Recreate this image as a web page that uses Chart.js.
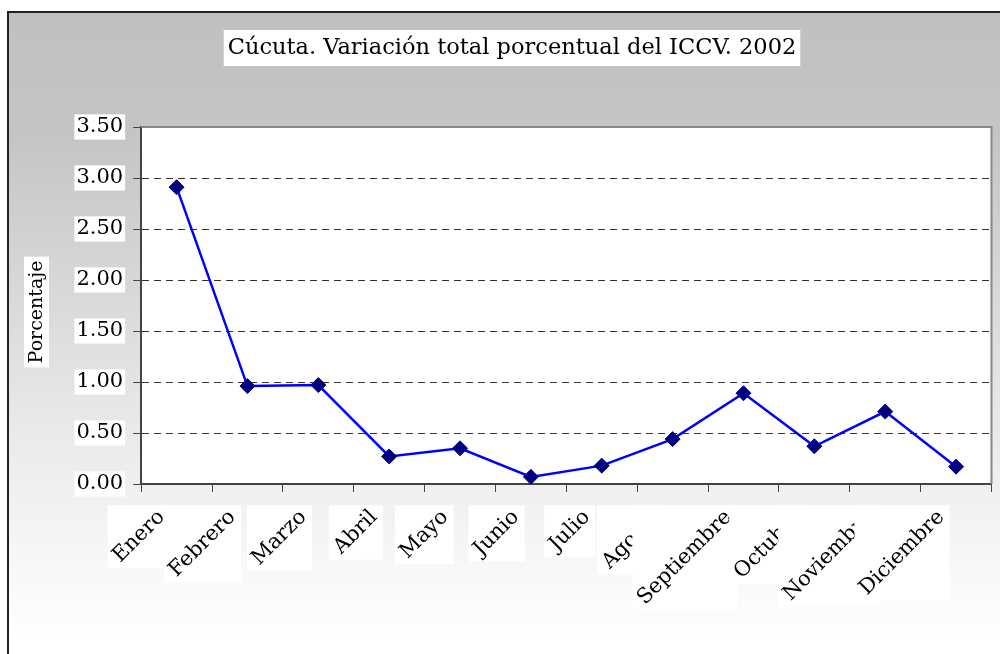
<!DOCTYPE html>
<html>
<head>
<meta charset="utf-8">
<script src="https://cdn.jsdelivr.net/npm/chart.js@4/dist/chart.umd.min.js"></script>
<style>
  html, body { margin: 0; padding: 0; background: #fff; }
  #wrap { width: 1000px; height: 654px; }
</style>
</head>
<body>
<div id="wrap"><canvas id="chart" width="1000" height="654"></canvas></div>
<script>
// Data
const months = ['Enero', 'Febrero', 'Marzo', 'Abril', 'Mayo', 'Junio', 'Julio',
  'Agosto', 'Septiembre', 'Octubre', 'Noviembre', 'Diciembre'];
const variation = [2.91, 0.96, 0.97, 0.27, 0.35, 0.07, 0.18, 0.44, 0.89, 0.37, 0.71, 0.17];
const chartTitle = 'Cúcuta. Variación total porcentual del ICCV. 2002';
const yTitle = 'Porcentaje';

const FONT = '"DejaVu Serif", "Liberation Serif", serif';

// Background gradient, outer frame, title box, white plot area
const frame = {
  id: 'frame',
  beforeDraw(chart) {
    const { ctx, chartArea } = chart;
    ctx.save();
    const g = ctx.createLinearGradient(0, 12, 0, 640);
    g.addColorStop(0, '#c0c0c0');
    g.addColorStop(0.2, '#c5c5c5');
    g.addColorStop(0.7, '#ececec');
    g.addColorStop(1, '#ffffff');
    ctx.fillStyle = g;
    ctx.fillRect(8, 12, 1000, 660);
    ctx.strokeStyle = '#222';
    ctx.lineWidth = 2;
    ctx.strokeRect(8, 12, 1000, 660);

    // title with white box
    ctx.font = '22.5px ' + FONT;
    const tw = ctx.measureText(chartTitle).width;
    const cx = 512;
    ctx.fillStyle = '#fff';
    ctx.fillRect(cx - tw / 2 - 4, 30, tw + 8, 36);
    ctx.fillStyle = '#000';
    ctx.textAlign = 'center';
    ctx.textBaseline = 'middle';
    ctx.fillText(chartTitle, cx, 48);

    // y title box
    ctx.font = '19px ' + FONT;
    const yw = ctx.measureText(yTitle).width;
    ctx.fillStyle = '#fff';
    ctx.fillRect(24, 312 - yw / 2 - 4, 25, yw + 8);

    ctx.fillStyle = '#fff';
    ctx.fillRect(chartArea.left, chartArea.top, chartArea.right - chartArea.left, chartArea.bottom - chartArea.top);
    ctx.restore();
  },
  afterDraw(chart) {
    const { ctx, chartArea, scales } = chart;
    ctx.save();
    // top and right border of plot area
    ctx.strokeStyle = '#888';
    ctx.lineWidth = 2;
    ctx.beginPath();
    ctx.moveTo(chartArea.left, chartArea.top);
    ctx.lineTo(chartArea.right, chartArea.top);
    ctx.lineTo(chartArea.right, chartArea.bottom);
    ctx.stroke();

    // y title
    ctx.font = '19px ' + FONT;
    ctx.fillStyle = '#000';
    ctx.translate(37, 312);
    ctx.rotate(-Math.PI / 2);
    ctx.textAlign = 'center';
    ctx.textBaseline = 'middle';
    ctx.fillText(yTitle, 0, 0);
    ctx.restore();

    // rotated month labels, each on an upright white box drawn in order
    ctx.save();
    ctx.font = '21px ' + FONT;
    const h = 19;
    const c = Math.SQRT1_2;
    months.forEach((m, i) => {
      const ax = scales.x.getPixelForValue(i) - 15;
      const ay = 514;
      const L = ctx.measureText(m).width;
      const x0 = ax - c * L - c * h / 2 - 2;
      const x1 = ax + c * h / 2 + 2;
      const y0 = ay - c * h / 2 - 2;
      const y1 = ay + c * L + c * h / 2 + 2;
      ctx.fillStyle = '#fff';
      ctx.fillRect(x0, y0, x1 - x0, y1 - y0);
      ctx.save();
      ctx.translate(ax, ay);
      ctx.rotate(-Math.PI / 4);
      ctx.fillStyle = '#000';
      ctx.textAlign = 'right';
      ctx.textBaseline = 'middle';
      ctx.fillText(m, 0, 0);
      ctx.restore();
    });
    ctx.restore();
  }
};

new Chart(document.getElementById('chart'), {
  type: 'line',
  data: {
    labels: months,
    datasets: [{
      data: variation,
      borderColor: '#0000ff',
      borderWidth: 2.5,
      tension: 0,
      pointStyle: 'rectRot',
      pointRadius: 7.5,
      pointBackgroundColor: '#000080',
      pointBorderColor: '#000080',
      pointBorderWidth: 1
    }]
  },
  options: {
    responsive: false,
    animation: false,
    layout: { padding: { left: 8, top: 127, right: 3, bottom: 162 } },
    plugins: { legend: { display: false }, tooltip: { enabled: false }, title: { display: false } },
    scales: {
      x: {
        offset: true,
        grid: { display: true, drawOnChartArea: false, drawTicks: true, offset: true, tickLength: 8, tickColor: '#444', tickWidth: 1 },
        border: { color: '#444', width: 2 },
        ticks: { display: false }
      },
      y: {
        min: 0,
        max: 3.5,
        title: { display: true, text: ' ', font: { size: 17, family: FONT }, padding: { top: 18, bottom: 20 } },
        grid: {
          color: (ctx) => (ctx.tick && (ctx.tick.value === 0 || ctx.tick.value === 3.5)) ? 'rgba(0,0,0,0)' : '#333',
          tickColor: '#444',
          tickLength: 8,
          lineWidth: 1
        },
        border: { color: '#444', width: 2, dash: [7, 5] },
        ticks: {
          stepSize: 0.5,
          padding: 10,
          color: '#000',
          font: { size: 21, family: FONT },
          callback: (v) => v.toFixed(2),
          showLabelBackdrop: true,
          backdropColor: '#fff',
          backdropPadding: { x: 2, y: 0 }
        }
      }
    }
  },
  plugins: [frame]
});
</script>
</body>
</html>
